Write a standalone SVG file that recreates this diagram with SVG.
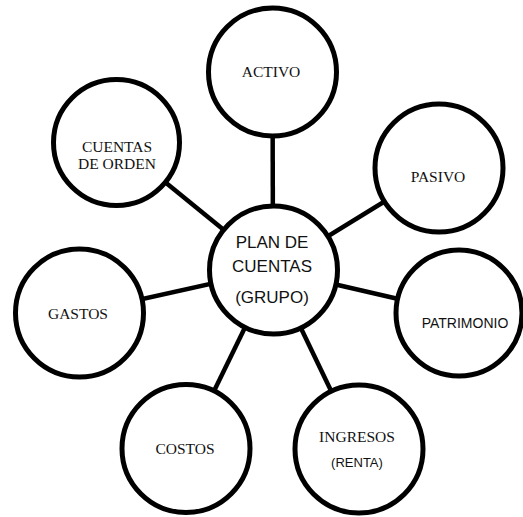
<svg xmlns="http://www.w3.org/2000/svg" width="523" height="517" viewBox="0 0 523 517">
<style>
.n{fill:#fff;stroke:#000;stroke-width:5}
.c line{stroke:#000;stroke-width:4.5}
.s{font-family:"Liberation Serif","Times New Roman",serif;font-size:15.5px;fill:#111;text-anchor:middle}
.a{font-family:"Liberation Sans",Arial,sans-serif;fill:#111;text-anchor:middle}
</style>
<rect width="523" height="517" fill="#fff"/>
<g class="c" id="connectors">
<line x1="273" y1="270" x2="272.5" y2="72"/>
<line x1="273" y1="270" x2="439" y2="168"/>
<line x1="273" y1="270" x2="459" y2="313"/>
<line x1="273" y1="270" x2="359" y2="449"/>
<line x1="273" y1="270" x2="186" y2="448.5"/>
<line x1="273" y1="270" x2="79.5" y2="313"/>
<line x1="273" y1="270" x2="116.5" y2="142.5"/>
</g>
<g id="center">
<circle class="n" cx="273.5" cy="270" r="64"/>
<text class="a" font-size="17" x="272" y="248">PLAN DE</text>
<text class="a" font-size="17" x="272" y="272">CUENTAS</text>
<text class="a" font-size="17" x="272" y="303">(GRUPO)</text>
</g>
<g id="activo">
<circle class="n" cx="272.5" cy="72" r="64"/>
<text class="s" x="271" y="77">ACTIVO</text>
</g>
<g id="pasivo">
<circle class="n" cx="439" cy="168" r="64"/>
<text class="s" x="438" y="182">PASIVO</text>
</g>
<g id="patrimonio">
<circle class="n" cx="459" cy="313" r="63"/>
<text class="a" font-size="14" x="465" y="328">PATRIMONIO</text>
</g>
<g id="ingresos">
<circle class="n" cx="359" cy="449" r="64"/>
<text class="s" x="357" y="442">INGRESOS</text>
<text class="a" font-size="13" x="357" y="467">(RENTA)</text>
</g>
<g id="costos">
<circle class="n" cx="186" cy="448.5" r="64"/>
<text class="s" x="185" y="454">COSTOS</text>
</g>
<g id="gastos">
<circle class="n" cx="79.5" cy="313" r="64"/>
<text class="s" x="78" y="319">GASTOS</text>
</g>
<g id="cuentas-orden">
<circle class="n" cx="116.5" cy="142.5" r="63"/>
<text class="s" x="117" y="151.5">CUENTAS</text>
<text class="s" x="117" y="168.5">DE ORDEN</text>
</g>
</svg>
